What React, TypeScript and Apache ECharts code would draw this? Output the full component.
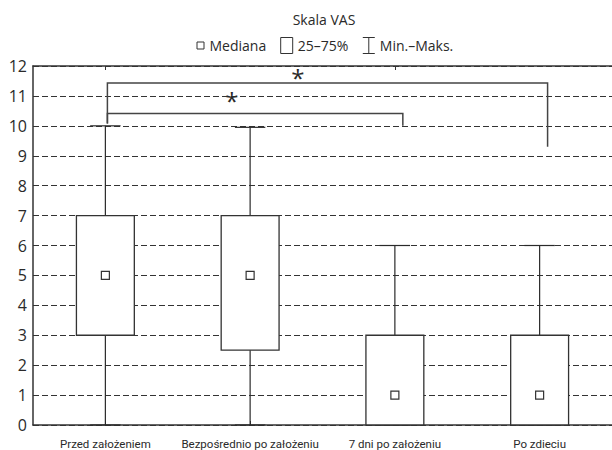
import React, { useEffect, useRef } from 'react';
import * as echarts from 'echarts';

// ---- data ----
const categories = ['Przed założeniem', 'Bezpośrednio po założeniu', '7 dni po założeniu', 'Po zdieciu'];
const minVals = [0, 0, 0, 0];
const q1Vals = [3, 2.5, 0, 0];
const medianVals = [5, 5, 1, 1];
const q3Vals = [7, 7, 3, 3];
const maxVals = [10, 9.95, 6, 6];

const yTicksMin = 0;
const yTicksMax = 12;
const yTickStep = 1;

// significance brackets (category index from/to, y values)
const bracketFrom = [0, 0];
const bracketTo = [2, 3];
const bracketTop = [10.41, 11.43];
const bracketLeftEnd = [10.08, 10.08];
const bracketRightEnd = [10.0, 9.3];
const starX = [0.873, 1.33];
const starY = [10.93, 11.67];
const starLabel = ['*', '*'];

const legendNames = ['Mediana', '25–75%', 'Min.–Maks.'];
const titleText = 'Skala VAS';

// ---- styles ----
const FONT = "'Open Sans', 'Noto Sans', sans-serif";
const NARROW = "Roboto, 'DejaVu Sans Condensed', sans-serif";
const INK = '#2a2a2a';
const BOX_FRAC = 0.4;
const CAP_FRAC = 0.21;
const MED_SIZE = 8;

const iconSquare = 'path://M0,0M12,16M4.5,4.5L11.5,4.5L11.5,11.5L4.5,11.5Z';
const iconRect = 'path://M0,0L12,0L12,16L0,16Z';
const iconIBeam = 'path://M0,0L12,0M6,0L6,16M0,16L12,16';

const boxData = categories.map((_, i) => [i, q1Vals[i], q3Vals[i]]);
const whiskerData = categories.map((_, i) => [i, minVals[i], maxVals[i]]);
const medianData = categories.map((_, i) => [i, medianVals[i]]);
const bracketData = bracketFrom.map((f, k) => [
  f, bracketTo[k], bracketTop[k], bracketLeftEnd[k], bracketRightEnd[k], starX[k], starY[k],
]);

export default function App() {
  const ref = useRef<HTMLDivElement>(null);
  useEffect(() => {
    const chart = echarts.init(ref.current!, null, { renderer: 'svg' });
    const option: any = {
      animation: false,
      backgroundColor: '#fff',
      title: {
        text: titleText,
        left: 324,
        top: 12,
        padding: 0,
        textAlign: 'center',
        textStyle: { fontFamily: FONT, fontSize: 14, fontWeight: 'normal', color: INK },
      },
      legend: {
        left: 192,
        top: 37,
        padding: 0,
        itemWidth: 12,
        itemHeight: 16,
        itemGap: 14,
        textStyle: { fontFamily: FONT, fontSize: 14, color: INK, padding: [0, 0, 0, 0] },
        data: [
          { name: legendNames[0], icon: iconSquare, itemStyle: { color: '#fff', borderColor: '#333', borderWidth: 1 } },
          { name: legendNames[1], icon: iconRect, itemStyle: { color: '#fff', borderColor: '#333', borderWidth: 1 } },
          { name: legendNames[2], icon: iconIBeam, itemStyle: { color: '#fff', borderColor: '#333', borderWidth: 1 } },
        ],
      },
      grid: { left: 33, right: 0, top: 66, bottom: 25, containLabel: false },
      xAxis: [
        {
          type: 'category',
          data: categories,
          position: 'bottom',
          offset: 4,
          axisLine: { show: true, lineStyle: { color: '#333', width: 1.5 } },
          axisTick: { show: true, inside: true, alignWithLabel: true, length: 4, lineStyle: { color: '#333' } },
          axisLabel: { fontFamily: NARROW, fontSize: 11.5, color: INK, margin: 9, interval: 0 },
          splitLine: { show: false },
        },
        {
          type: 'category',
          data: categories,
          position: 'top',
          axisLine: { show: true, lineStyle: { color: '#333', width: 1.5 } },
          axisTick: { show: true, inside: true, alignWithLabel: true, length: 4, lineStyle: { color: '#333' } },
          axisLabel: { show: false },
          splitLine: { show: false },
        },
      ],
      yAxis: {
        type: 'value',
        min: yTicksMin,
        max: yTicksMax,
        interval: yTickStep,
        axisLine: { show: true, lineStyle: { color: '#333', width: 1.5 } },
        axisTick: { show: false },
        axisLabel: { fontFamily: FONT, fontSize: 16, color: INK, margin: 6 },
        splitLine: { show: true, lineStyle: { color: '#333', width: 1, type: [6, 3] } },
      },
      series: [
        {
          name: legendNames[2],
          type: 'custom',
          xAxisIndex: 0,
          itemStyle: { color: '#fff', borderColor: '#333' },
          data: whiskerData,
          encode: { x: 0, y: [1, 2] },
          renderItem: (params: any, api: any) => {
            const i = api.value(0);
            const band = api.size([1, 0])[0];
            const lo = api.coord([i, api.value(1)]);
            const hi = api.coord([i, api.value(2)]);
            const cw = band * CAP_FRAC;
            const st = { stroke: INK, lineWidth: 1.2, fill: 'none' };
            return {
              type: 'group',
              children: [
                { type: 'line', shape: { x1: lo[0], y1: lo[1], x2: hi[0], y2: hi[1] }, style: st },
                { type: 'line', shape: { x1: lo[0] - cw / 2, y1: lo[1], x2: lo[0] + cw / 2, y2: lo[1] }, style: st },
                { type: 'line', shape: { x1: hi[0] - cw / 2, y1: hi[1], x2: hi[0] + cw / 2, y2: hi[1] }, style: st },
              ],
            };
          },
        },
        {
          name: legendNames[1],
          type: 'custom',
          xAxisIndex: 0,
          itemStyle: { color: '#fff', borderColor: '#333' },
          data: boxData,
          encode: { x: 0, y: [1, 2] },
          renderItem: (params: any, api: any) => {
            const i = api.value(0);
            const band = api.size([1, 0])[0];
            const lo = api.coord([i, api.value(1)]);
            const hi = api.coord([i, api.value(2)]);
            const w = band * BOX_FRAC;
            return {
              type: 'rect',
              shape: { x: lo[0] - w / 2, y: hi[1], width: w, height: lo[1] - hi[1] },
              style: { fill: '#fff', stroke: '#333', lineWidth: 1.3 },
            };
          },
        },
        {
          name: legendNames[0],
          type: 'custom',
          xAxisIndex: 0,
          itemStyle: { color: '#fff', borderColor: '#333' },
          data: medianData,
          encode: { x: 0, y: 1 },
          renderItem: (params: any, api: any) => {
            const p = api.coord([api.value(0), api.value(1)]);
            return {
              type: 'rect',
              shape: { x: p[0] - MED_SIZE / 2, y: p[1] - MED_SIZE / 2, width: MED_SIZE, height: MED_SIZE },
              style: { fill: '#fff', stroke: '#333', lineWidth: 1.2 },
            };
          },
        },
        {
          name: 'sig',
          type: 'custom',
          xAxisIndex: 0,
          data: bracketData,
          encode: { x: 0, y: 2 },
          renderItem: (params: any, api: any) => {
            const k = params.dataIndex;
            const band = api.size([1, 0])[0];
            const f = api.value(0);
            const t = api.value(1);
            const pTop = api.coord([f, api.value(2)]);
            const xl = pTop[0] + band * 0.014;
            const xr = api.coord([t, api.value(2)])[0] + band * 0.055;
            const yl = api.coord([f, api.value(3)])[1];
            const yr = api.coord([t, api.value(4)])[1];
            const sBase = api.coord([0, api.value(6)]);
            const sx = sBase[0] + api.value(5) * band;
            return {
              type: 'group',
              children: [
                {
                  type: 'polyline',
                  shape: { points: [[xl, yl], [xl, pTop[1]], [xr, pTop[1]], [xr, yr]] },
                  style: { fill: 'none', stroke: '#444', lineWidth: 1.5 },
                },
                {
                  type: 'text',
                  x: sx,
                  y: sBase[1] + 2,
                  style: {
                    text: starLabel[k],
                    fontFamily: FONT,
                    fontSize: 24,
                    fill: INK,
                    align: 'center',
                    verticalAlign: 'middle',
                  },
                },
              ],
            };
          },
        },
      ],
    };
    chart.setOption(option);
    return () => chart.dispose();
  }, []);
  return <div ref={ref} style={{ position: 'fixed', left: 0, top: 0, width: 612, height: 450 }} />;
}
